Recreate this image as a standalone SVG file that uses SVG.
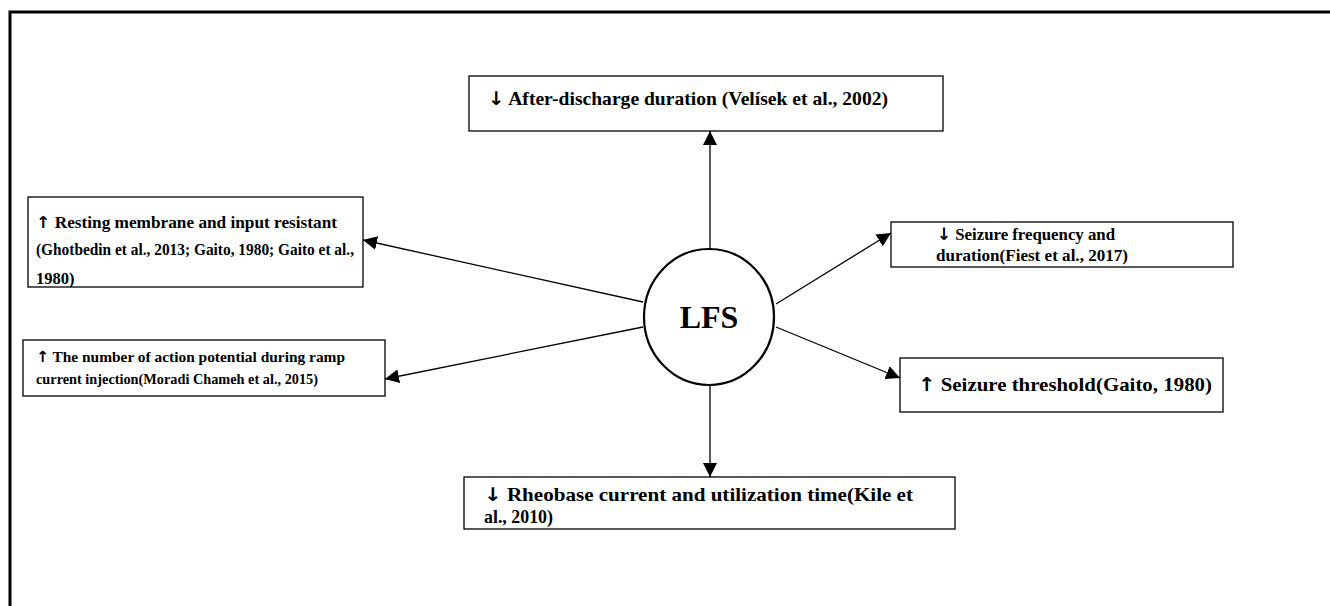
<svg xmlns="http://www.w3.org/2000/svg" width="1330" height="606" viewBox="0 0 1330 606">
  <style>
    .box { fill: #fff; stroke: #000; stroke-width: 1.3; }
    .t { font-family: "Liberation Serif", "DejaVu Serif", serif; font-weight: bold; font-size: 17px; fill: #000; }
    .big { font-size: 19px; }
    .md { font-size: 16.5px; }
    .sm { font-size: 15.5px; }
    .ar { font-family: "DejaVu Sans", "Liberation Sans", sans-serif; font-weight: bold; }
    .lfs { font-family: "Liberation Serif", "DejaVu Serif", serif; font-weight: bold; font-size: 32px; fill: #000; }
    .c { stroke: #000; stroke-width: 1.3; fill: none; marker-end: url(#ah); }
  </style>
  <defs>
    <marker id="ah" viewBox="0 0 10 10" refX="10" refY="5" markerWidth="14" markerHeight="14" markerUnits="userSpaceOnUse" orient="auto">
      <path d="M0,0 L10,5 L0,10 z" fill="#000"/>
    </marker>
    <clipPath id="clipLU"><rect x="28" y="197" width="335" height="90"/></clipPath>
  </defs>
  <rect width="1330" height="606" fill="#fff"/>
  <path d="M10,606 V12 H1330" fill="none" stroke="#000" stroke-width="3"/>

  <g id="connectors">
    <line class="c" x1="710" y1="249" x2="710" y2="131"/>
    <line class="c" x1="643" y1="302" x2="363" y2="240"/>
    <line class="c" x1="643" y1="327" x2="385" y2="379"/>
    <line class="c" x1="776" y1="304" x2="891" y2="233"/>
    <line class="c" x1="776" y1="327" x2="900" y2="378"/>
    <line class="c" x1="710" y1="385" x2="710" y2="477"/>
  </g>

  <g id="lfs">
    <ellipse cx="709" cy="317" rx="65" ry="68" fill="#fff" stroke="#000" stroke-width="2.2"/>
    <text class="lfs" x="709" y="328" text-anchor="middle">LFS</text>
  </g>

  <g id="n-top">
    <rect class="box" x="469" y="76" width="474" height="55"/>
    <text class="t big" x="488" y="105" textLength="400" lengthAdjust="spacingAndGlyphs"><tspan class="ar">↓</tspan> After-discharge duration (Velísek et al., 2002)</text>
  </g>

  <g id="n-left-upper">
    <rect class="box" x="28" y="197" width="335" height="90"/>
    <g clip-path="url(#clipLU)">
      <text class="t md" x="36" y="228" textLength="301" lengthAdjust="spacingAndGlyphs"><tspan class="ar">↑</tspan> Resting membrane and input resistant</text>
      <text class="t md" x="36" y="255" textLength="318" lengthAdjust="spacingAndGlyphs">(Ghotbedin et al., 2013; Gaito, 1980; Gaito et al.,</text>
      <text class="t md" x="36" y="284">1980)</text>
    </g>
  </g>

  <g id="n-right-upper">
    <rect class="box" x="891" y="222" width="342" height="45"/>
    <text class="t" x="937" y="240" textLength="178" lengthAdjust="spacingAndGlyphs"><tspan class="ar">↓</tspan> Seizure frequency and</text>
    <text class="t" x="936" y="261" textLength="192" lengthAdjust="spacingAndGlyphs">duration(Fiest et al., 2017)</text>
  </g>

  <g id="n-left-lower">
    <rect class="box" x="23" y="340" width="362" height="56"/>
    <text class="t sm" x="36" y="362" textLength="309" lengthAdjust="spacingAndGlyphs"><tspan class="ar">↑</tspan> The number of action potential during ramp</text>
    <text class="t sm" x="36" y="384" textLength="282" lengthAdjust="spacingAndGlyphs">current injection(Moradi Chameh et al., 2015)</text>
  </g>

  <g id="n-right-lower">
    <rect class="box" x="900" y="358" width="323" height="54"/>
    <text class="t big" x="918" y="391" textLength="294" lengthAdjust="spacingAndGlyphs"><tspan class="ar">↑</tspan> Seizure threshold(Gaito, 1980)</text>
  </g>

  <g id="n-bottom">
    <rect class="box" x="464" y="477" width="491" height="52"/>
    <text class="t big" x="484" y="501" textLength="429" lengthAdjust="spacingAndGlyphs"><tspan class="ar">↓</tspan> Rheobase current and utilization time(Kile et</text>
    <text class="t big" x="484" y="523" textLength="69" lengthAdjust="spacingAndGlyphs">al., 2010)</text>
  </g>
</svg>
